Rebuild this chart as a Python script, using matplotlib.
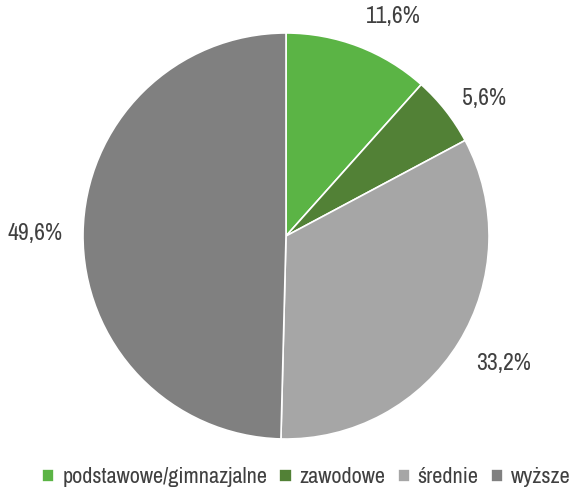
import numpy as np
import matplotlib.pyplot as plt

plt.rcParams['font.family'] = ['Archivo Narrow', 'DejaVu Sans']

# Dane
categories = ['podstawowe/gimnazjalne', 'zawodowe', 'średnie', 'wyższe']
values = [11.6, 5.6, 33.2, 49.6]
labels = ['11,6%', '5,6%', '33,2%', '49,6%']
colors = ['#5BB445', '#528136', '#A6A6A6', '#808080']

fig = plt.figure(figsize=(5.76, 4.88), dpi=100)
ax = fig.add_axes([0.1441, 0.1004, 0.7049, 0.832])

wedges, _ = ax.pie(values, colors=colors, startangle=90, counterclock=False,
                   wedgeprops=dict(edgecolor='white', linewidth=1.2))
ax.set_xlim(-1, 1)
ax.set_ylim(-1, 1)
ax.set_aspect('equal')

# Etykiety na zewnątrz
for w, lab in zip(wedges, labels):
    ang = np.deg2rad((w.theta1 + w.theta2) / 2)
    c, s = np.cos(ang), np.sin(ang)
    ha = 'left' if c >= 0 else 'right'
    if s > 0.8:
        va = 'bottom'
    elif s < -0.4:
        va = 'top'
    else:
        va = 'center'
    ax.text(1.1 * c, 1.1 * s, lab, ha=ha, va=va, fontsize=17, color='#404040',
            clip_on=False)

leg = fig.legend(wedges, categories, loc='center', bbox_to_anchor=(0.532, 0.022),
                 ncol=4, frameon=False, fontsize=16, handlelength=0.55,
                 handleheight=0.55, handletextpad=0.35, columnspacing=0.55,
                 borderpad=0)
for t in leg.get_texts():
    t.set_color('#404040')

fig.savefig('out.png', dpi=100)
